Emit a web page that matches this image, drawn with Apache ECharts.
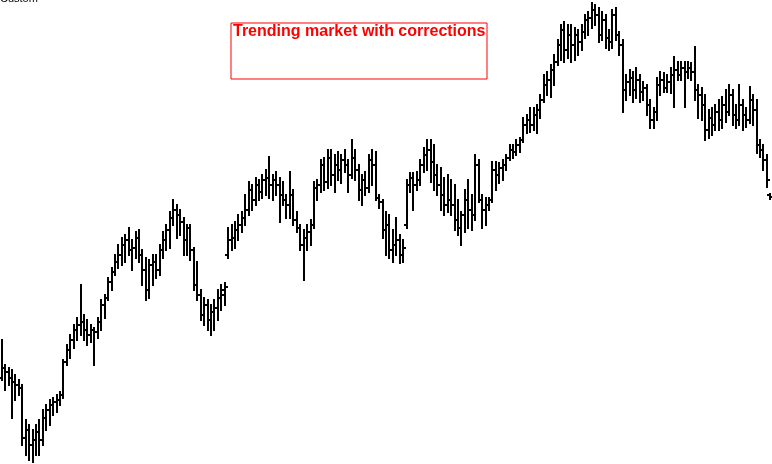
<!DOCTYPE html>
<html>
<head>
<meta charset="utf-8">
<script src="https://cdn.jsdelivr.net/npm/echarts@6/dist/echarts.min.js"></script>
<style>
html,body{margin:0;padding:0;background:#fff;}
#chart{width:772px;height:464px;}
</style>
</head>
<body>
<div id="chart"></div>
<script>
// OHLC values (price units)
var opens = [122,132,128,122,118,115,112,62,70,55,60,68,60,82,90,95,98,100,105,138,150,160,170,175,178,170,165,170,168,178,195,202,218,228,238,245,255,260,250,252,262,245,230,210,235,238,230,250,260,270,282,290,285,278,260,272,250,215,205,185,195,180,188,192,202,205,245,260,262,270,275,282,290,310,300,315,308,320,322,315,320,315,305,300,295,305,280,272,255,262,268,275,312,315,335,318,342,325,335,330,340,335,325,342,330,310,320,312,340,335,302,298,270,275,250,255,260,245,275,315,322,315,320,335,345,350,338,325,315,305,295,300,295,280,272,285,300,290,285,335,300,290,295,300,330,325,332,335,342,350,348,355,360,375,380,375,385,390,400,415,420,430,438,455,470,450,465,455,465,458,468,480,482,490,485,465,480,462,458,485,465,455,410,418,422,410,420,408,412,395,380,388,415,420,412,418,425,430,425,432,428,432,428,410,405,395,370,382,375,388,380,395,388,405,385,380,395,385,380,400,390,355,350,340,305];
var highs = [160,135,132,130,125,120,115,80,75,70,75,80,90,95,100,102,105,108,140,155,165,175,182,215,185,180,175,172,182,200,205,222,232,245,255,262,265,272,260,268,270,250,242,240,245,245,255,268,275,288,300,295,290,282,275,275,252,238,210,202,200,195,200,210,215,217,272,275,278,285,288,305,318,315,322,320,325,330,343,325,328,322,318,305,328,310,288,275,270,275,280,318,320,340,342,350,350,345,348,345,350,340,360,350,335,325,328,345,350,348,305,300,288,285,270,282,265,260,320,327,327,328,340,352,360,360,355,335,332,322,325,320,315,300,288,310,320,305,345,340,305,302,302,338,338,337,340,345,355,355,360,362,382,385,392,392,395,405,425,428,435,445,460,475,478,475,475,472,470,475,485,488,497,495,492,488,485,470,490,492,468,460,425,430,428,432,425,418,415,400,392,422,428,427,425,432,443,438,438,438,438,437,453,415,412,405,390,392,395,400,403,410,415,410,395,415,400,392,413,405,400,360,355,345,306];
var lows = [120,110,115,82,100,105,55,45,40,38,45,45,55,70,75,85,88,95,102,135,142,152,160,165,160,155,158,135,162,170,182,200,210,225,232,235,238,245,230,242,238,215,200,202,215,222,225,242,250,252,275,262,265,245,245,240,210,200,180,175,170,165,170,180,190,195,242,250,252,260,268,275,285,290,295,300,302,305,302,300,305,278,295,282,282,275,268,250,220,250,255,272,300,308,310,312,315,308,320,317,328,308,322,320,300,295,305,308,315,300,292,262,245,242,238,245,237,238,272,308,290,310,315,328,330,318,310,305,290,285,288,285,270,265,255,268,272,270,280,298,272,275,290,298,310,317,320,330,340,342,345,348,358,367,368,370,367,382,398,405,403,415,435,440,438,442,438,440,445,450,462,465,472,475,458,460,452,450,452,460,445,388,400,405,398,402,398,400,385,372,372,380,405,408,408,407,393,420,420,393,422,420,400,382,380,360,362,365,370,370,372,378,385,375,372,375,370,373,377,375,347,343,330,313,301];
var closes = [132,128,122,118,115,112,62,70,55,60,68,60,82,90,95,98,100,105,138,150,160,170,175,178,170,165,170,168,178,195,202,218,228,238,245,255,260,250,252,262,245,230,210,235,238,230,250,260,270,282,290,285,278,260,272,250,215,205,185,195,180,188,192,202,210,213,260,262,270,275,282,290,310,300,315,308,320,322,315,320,315,305,300,295,305,280,272,255,262,268,275,312,315,335,318,342,325,335,330,340,335,325,342,330,310,320,312,340,335,302,298,270,275,250,255,260,245,252,315,322,315,320,335,345,350,338,325,315,305,295,300,295,280,272,285,300,290,285,335,300,290,295,300,330,325,332,335,342,350,348,355,360,375,380,375,385,390,400,415,420,430,438,455,470,450,465,455,465,458,468,480,482,490,485,465,480,462,458,485,465,455,410,418,422,410,420,408,412,395,380,388,415,420,412,418,425,430,425,432,428,432,428,410,405,395,370,382,375,388,380,395,388,405,385,380,395,385,380,400,390,355,350,340,320,303];
var categories = opens.map(function(_, i){ return 'D' + (i + 1); });
var titleText = 'Trending market with corrections';
var cornerText = 'Custom';

var data = opens.map(function(o, i){ return [i, o, highs[i], lows[i], closes[i]]; });

var chart = echarts.init(document.getElementById('chart'));
chart.setOption({
  animation: false,
  backgroundColor: '#ffffff',
  grid: {left: 0, right: 0, top: 0, bottom: 0},
  xAxis: {type: 'category', data: categories, show: false, boundaryGap: true},
  yAxis: {type: 'value', min: 36, max: 500, show: false},
  series: [{
    type: 'custom',
    data: data,
    encode: {x: 0, y: [1, 2, 3, 4]},
    renderItem: function(params, api){
      var idx = api.value(0);
      var x = Math.round(api.coord([idx, 0])[0]);
      var yo = Math.round(api.coord([idx, api.value(1)])[1]);
      var yh = Math.round(api.coord([idx, api.value(2)])[1]);
      var yl = Math.round(api.coord([idx, api.value(3)])[1]);
      var yc = Math.round(api.coord([idx, api.value(4)])[1]);
      var w = 3;
      var st = {stroke: '#000000', lineWidth: 2};
      return {type: 'group', children: [
        {type: 'line', shape: {x1: x, y1: yh - 1, x2: x, y2: yl + 1}, style: st},
        {type: 'line', shape: {x1: x - w, y1: yo, x2: x, y2: yo}, style: st},
        {type: 'line', shape: {x1: x, y1: yc, x2: x + w, y2: yc}, style: st}
      ]};
    }
  }],
  graphic: [
    {type: 'rect', left: 230.5, top: 22.5, shape: {width: 256, height: 56}, style: {fill: '#ffffff', stroke: '#ff0000', lineWidth: 1}},
    {type: 'text', left: 233, top: 24, style: {text: titleText, fill: '#ff0000', font: 'bold 16px "Liberation Sans", Arial, sans-serif'}},
    {type: 'text', left: 0, top: -7, style: {text: cornerText, fill: '#000000', font: '11px "Liberation Sans", Arial, sans-serif'}}
  ]
});
</script>
</body>
</html>
